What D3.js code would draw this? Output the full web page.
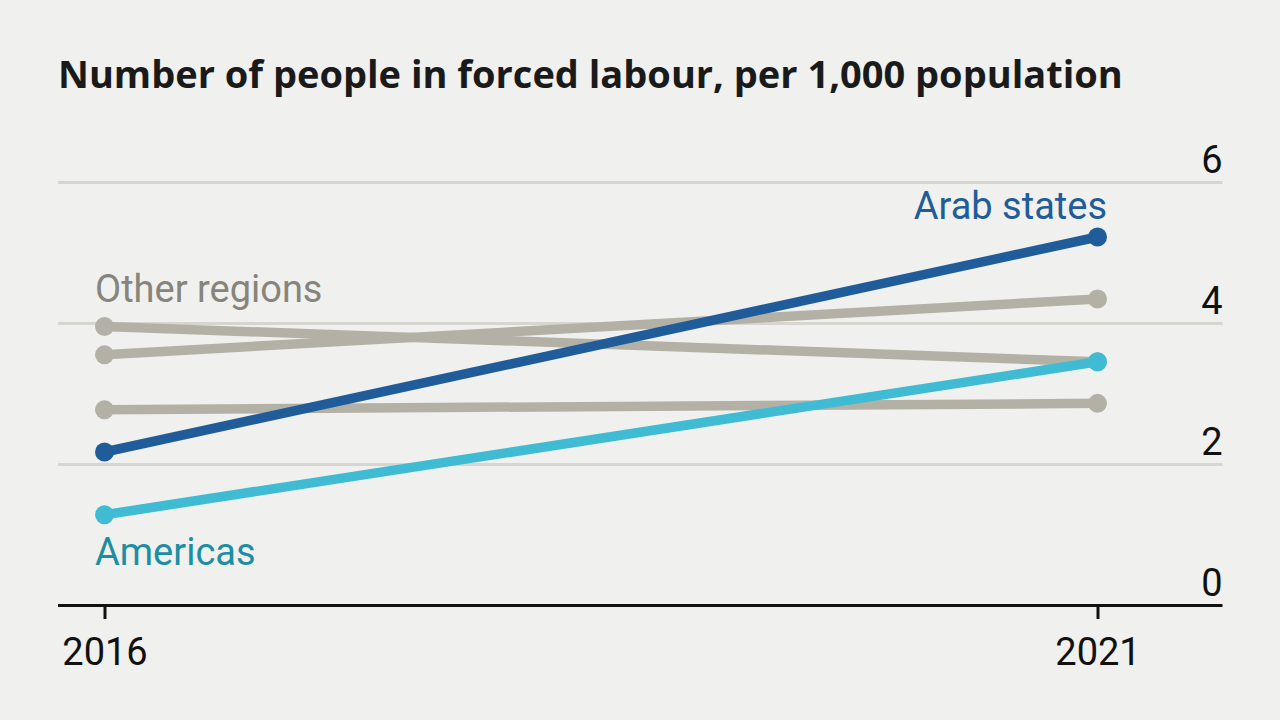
<!DOCTYPE html>
<html lang="en">
<head>
    <meta charset="UTF-8">
    <title>Forced labour per 1,000 population</title>
    <script src="https://unpkg.com/d3@7/dist/d3.min.js"></script>
    <style>
      body { margin: 0; background: #f0f0ee; }
      text { font-family: Roboto, "Open Sans", sans-serif; }
    </style>
</head>
<body>
  <script>
      // data
      var years = [2016, 2021];
      var regions = ["Arab states", "Americas", "Europe & Central Asia", "Asia & Pacific", "Africa"];
      var start = [2.17, 1.28, 3.55, 3.95, 2.77];
      var end = [5.22, 3.45, 4.34, 3.45, 2.86];
      var yTicks = [0, 2, 4, 6];

      var width = 1280, height = 720;
      var svg = d3.select('body').append('svg')
                  .attr('width', width).attr('height', height)
                  .style('background', '#f0f0ee');

      var x = d3.scaleLinear().domain(years).range([104.5, 1097.5]);
      var y = d3.scaleLinear().domain([0, 6]).range([605, 182]);

      var colour = function(r) {
          if (r == "Arab states") return '#1f5c99';
          if (r == "Americas") return '#3fbcd3';
          return '#b3b1a6';
      };

      svg.append('text')
         .attr('x', 58).attr('y', 88)
         .style('font-family', '"Open Sans", sans-serif')
         .style('font-weight', 700).style('font-size', '38px')
         .attr('fill', '#1a1a1a')
         .text('Number of people in forced labour, per 1,000 population');

      // gridlines + right-hand labels
      var yAxis = svg.append('g').attr('transform', 'translate(1222.5,0)')
          .call(d3.axisLeft(y).tickValues(yTicks).tickSize(1164.5).tickFormat(d3.format('d')));
      yAxis.select('.domain').remove();
      yAxis.selectAll('.tick line')
           .attr('stroke', d => d == 0 ? '#111' : '#d6d5d0')
           .attr('stroke-width', 3);
      yAxis.selectAll('.tick text')
           .attr('x', 0).attr('dy', -10)
           .attr('text-anchor', 'end')
           .attr('fill', '#111')
           .style('font-size', '38px');

      var xAxis = svg.append('g').attr('transform', 'translate(0,606)')
          .call(d3.axisBottom(x).tickValues(years).tickSize(13).tickFormat(d3.format('d')));
      xAxis.select('.domain').remove();
      xAxis.selectAll('.tick line').attr('stroke', '#111').attr('stroke-width', 3);
      xAxis.selectAll('.tick text')
           .attr('y', 59).attr('dy', 0)
           .attr('fill', '#111')
           .style('font-size', '38px');

      var rows = regions.map((r, i) => ({region: r, values: [start[i], end[i]]}));
      var order = [2, 3, 4, 1, 0];   // grey first, highlighted lines on top
      var line = d3.line().x((d, i) => x(years[i])).y(d => y(d));

      var g = svg.append('g').selectAll('g').data(order.map(i => rows[i]))
                 .enter().append('g');
      g.append('path')
       .attr('d', d => line(d.values))
       .attr('fill', 'none')
       .attr('stroke', d => colour(d.region))
       .attr('stroke-width', 9.5);
      g.selectAll('circle').data(d => d.values.map((v, i) => ({v: v, i: i, r: d.region})))
       .enter().append('circle')
       .attr('cx', d => x(years[d.i])).attr('cy', d => y(d.v))
       .attr('r', 9.5)
       .attr('fill', d => colour(d.r));

      // labels
      svg.append('text').attr('x', 95).attr('y', 302)
         .attr('fill', '#86847b').style('font-size', '38px').text('Other regions');
      svg.append('text').attr('x', 95).attr('y', 565)
         .attr('fill', '#1b8ea3').style('font-size', '38px').text('Americas');
      svg.append('text').attr('x', 1107).attr('y', 219).attr('text-anchor', 'end')
         .attr('fill', '#1f5c99').style('font-size', '38px').text('Arab states');
  </script>
</body>
</html>
